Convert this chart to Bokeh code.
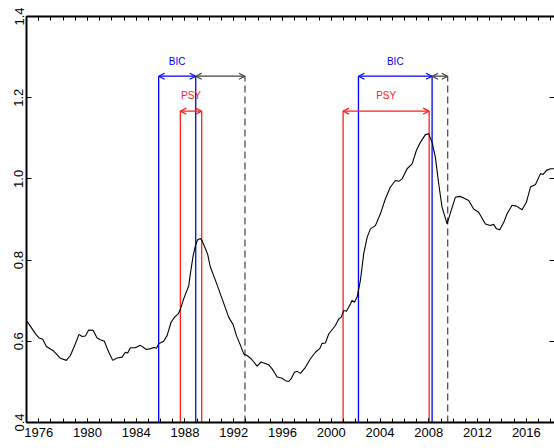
from bokeh.plotting import figure
from bokeh.models import LinearAxis, FixedTicker, Arrow, OpenHead, Range1d, CustomJSTickFormatter
from bokeh.embed import file_html
from bokeh.resources import INLINE
from bokeh.core.properties import value

# ---- data ----
years = [1975.05, 1975.73, 1976.0, 1976.33, 1976.63, 1976.96, 1977.23, 1977.78, 1978.27, 1978.6,
         1979.01, 1979.31, 1979.56, 1979.83, 1980.1, 1980.46, 1980.79, 1981.06, 1981.39, 1981.66,
         1982.07, 1982.43, 1982.84, 1983.11, 1983.3, 1983.52, 1983.93, 1984.34, 1984.84, 1985.22,
         1985.43, 1985.66, 1985.84, 1986.25, 1986.53, 1986.86, 1987.13, 1987.48, 1987.68, 1987.9,
         1988.31, 1988.44, 1988.67, 1988.86, 1989.04, 1989.27, 1989.4, 1989.68, 1989.86, 1990.08,
         1990.5, 1991.04, 1991.59, 1991.95, 1992.22, 1992.55, 1992.82, 1993.1, 1993.42, 1993.92,
         1994.24, 1994.51, 1994.87, 1995.15, 1995.56, 1995.97, 1996.24, 1996.51, 1996.71, 1996.98,
         1997.2, 1997.47, 1997.88, 1998.29, 1998.7, 1999.05, 1999.25, 1999.52, 1999.79, 2000.34,
         2000.61, 2000.81, 2001.02, 2001.24, 2001.57, 2001.71, 2001.9, 2002.12, 2002.39, 2002.66,
         2002.94, 2003.21, 2003.62, 2004.03, 2004.44, 2004.85, 2005.26, 2005.53, 2005.81, 2006.22,
         2006.63, 2006.98, 2007.31, 2007.72, 2007.99, 2008.27, 2008.54, 2008.81, 2009.09, 2009.5,
         2009.83, 2010.18, 2010.54, 2010.73, 2011.27, 2011.68, 2012.09, 2012.64, 2013.05, 2013.32,
         2013.55, 2013.82, 2014.15, 2014.42, 2014.83, 2015.19, 2015.65, 2016.01, 2016.34, 2016.75,
         2017.16, 2017.38, 2017.65, 2017.98, 2018.3]
ratio = [0.649, 0.619, 0.609, 0.605, 0.587, 0.581, 0.576, 0.558, 0.553, 0.565,
         0.594, 0.617, 0.612, 0.613, 0.628, 0.627, 0.608, 0.604, 0.600, 0.579,
         0.553, 0.559, 0.561, 0.573, 0.571, 0.584, 0.584, 0.590, 0.580, 0.582,
         0.585, 0.583, 0.594, 0.600, 0.614, 0.647, 0.659, 0.669, 0.684, 0.705,
         0.737, 0.766, 0.811, 0.836, 0.850, 0.853, 0.848, 0.828, 0.814, 0.783,
         0.750, 0.705, 0.659, 0.641, 0.614, 0.590, 0.569, 0.565, 0.557, 0.539,
         0.549, 0.546, 0.542, 0.532, 0.512, 0.509, 0.503, 0.501, 0.508, 0.524,
         0.526, 0.521, 0.536, 0.557, 0.573, 0.582, 0.595, 0.596, 0.618, 0.639,
         0.655, 0.659, 0.676, 0.674, 0.692, 0.701, 0.696, 0.709, 0.750, 0.816,
         0.856, 0.877, 0.885, 0.914, 0.951, 0.980, 0.996, 0.994, 1.000, 1.025,
         1.037, 1.070, 1.090, 1.109, 1.111, 1.090, 1.053, 0.988, 0.930, 0.889,
         0.922, 0.955, 0.957, 0.955, 0.947, 0.926, 0.918, 0.889, 0.885, 0.888,
         0.877, 0.875, 0.893, 0.914, 0.935, 0.933, 0.924, 0.943, 0.980, 0.986,
         1.013, 1.011, 1.021, 1.025, 1.025]

bic_start = [1985.84, 2002.23]
bic_end = [1988.88, 2008.27]
psy_start = [1987.62, 2000.97]
psy_end = [1989.37, 2008.03]
bust_end = [1992.92, 2009.55]

x_tick_labels = [1976, 1980, 1984, 1988, 1992, 1996, 2000, 2004, 2008, 2012, 2016]
y_ticks = [0.4, 0.6, 0.8, 1.0, 1.2, 1.4]

# ---- layout constants ----
BIC_LEVEL = 1.253
PSY_LEVEL = 1.167
BIC_TEXT = 1.289
PSY_TEXT = 1.205
FONT = "Liberation Sans"

p = figure(width=554, height=448, x_range=Range1d(1975, 2018.31), y_range=Range1d(0.4, 1.4),
           output_backend="svg", toolbar_location=None, x_axis_type=None, y_axis_type=None,
           min_border_left=26, min_border_right=0, min_border_top=16, min_border_bottom=26)
p.outline_line_color = None
p.background_fill_color = "white"
p.border_fill_color = "white"

xt = FixedTicker(ticks=x_tick_labels, minor_ticks=list(range(1975, 2019)))
yt = FixedTicker(ticks=y_ticks)
blank = CustomJSTickFormatter(code="return '';")

def style_axis(ax, length):
    ax.axis_line_width = 2
    ax.axis_line_color = "black"
    ax.major_tick_in = length
    ax.major_tick_out = 0
    ax.minor_tick_in = length
    ax.minor_tick_out = 0
    ax.major_tick_line_color = "black"
    ax.minor_tick_line_color = "black"
    ax.major_label_text_font = FONT
    ax.major_label_text_font_size = "13px"
    ax.major_label_text_color = "black"

xb = LinearAxis(ticker=xt)
style_axis(xb, 4)
xb.major_label_standoff = 5
p.add_layout(xb, "below")

xa = LinearAxis(ticker=xt, formatter=blank)
style_axis(xa, 4)
xa.major_label_standoff = 0
p.add_layout(xa, "above")

yl = LinearAxis(ticker=yt, formatter=CustomJSTickFormatter(code="return tick.toFixed(1);"))
style_axis(yl, 5)
yl.minor_tick_line_color = None
yl.major_label_orientation = "vertical"
yl.major_label_standoff = 3
p.add_layout(yl, "left")

yr = LinearAxis(ticker=yt, formatter=blank)
style_axis(yr, 5)
yr.minor_tick_line_color = None
yr.axis_line_color = None
yr.major_label_standoff = 0
p.add_layout(yr, "right")

# vertical lines
for xs in (bic_start, bic_end):
    p.segment(x0=xs, x1=xs, y0=[0.4] * len(xs), y1=[BIC_LEVEL] * len(xs), line_color="#0000ff", line_width=1.3)
for xs in (psy_start, psy_end):
    p.segment(x0=xs, x1=xs, y0=[0.4] * len(xs), y1=[PSY_LEVEL] * len(xs), line_color="#ff2020", line_width=1.3)
p.segment(x0=bust_end, x1=bust_end, y0=[0.4] * 2, y1=[BIC_LEVEL] * 2, line_color="#404040",
          line_width=1.2, line_dash="7 4")

# curve
p.line(years, ratio, line_color="black", line_width=1.1)

# arrows
for i in range(2):
    p.add_layout(Arrow(x_start=bic_start[i], x_end=bic_end[i], y_start=BIC_LEVEL, y_end=BIC_LEVEL,
                       start=OpenHead(size=6, line_color="#0000ff", line_width=1.2),
                       end=OpenHead(size=6, line_color="#0000ff", line_width=1.2),
                       line_color="#0000ff", line_width=1.2))
    p.add_layout(Arrow(x_start=bic_end[i], x_end=bust_end[i], y_start=BIC_LEVEL, y_end=BIC_LEVEL,
                       start=OpenHead(size=6, line_color="#404040", line_width=1.2),
                       end=OpenHead(size=6, line_color="#404040", line_width=1.2),
                       line_color="#404040", line_width=1.2))
    p.add_layout(Arrow(x_start=psy_start[i], x_end=psy_end[i], y_start=PSY_LEVEL, y_end=PSY_LEVEL,
                       start=OpenHead(size=6, line_color="#ff2020", line_width=1.2),
                       end=OpenHead(size=6, line_color="#ff2020", line_width=1.2),
                       line_color="#ff2020", line_width=1.2))

bic_mid = [(a + b) / 2 for a, b in zip(bic_start, bic_end)]
psy_mid = [(a + b) / 2 for a, b in zip(psy_start, psy_end)]
p.text(x=bic_mid, y=[BIC_TEXT] * 2, text=["BIC", "BIC"], text_color="#0000ff",
       text_font=value(FONT), text_font_size="10px", text_align="center", text_baseline="middle")
p.text(x=psy_mid, y=[PSY_TEXT] * 2, text=["PSY", "PSY"], text_color="#ff2020",
       text_font=value(FONT), text_font_size="10px", text_align="center", text_baseline="middle")

open("out.html", "w").write(file_html(p, INLINE))
